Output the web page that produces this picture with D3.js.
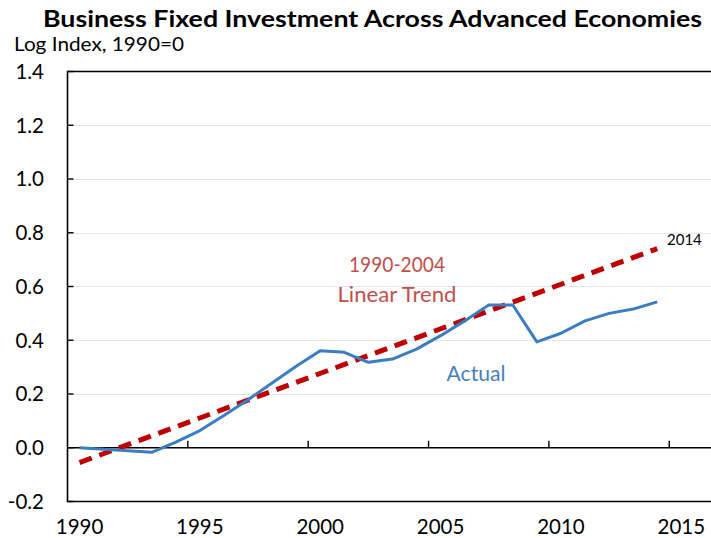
<!DOCTYPE html>
<html>
<head>
<meta charset="utf-8">
<script src="https://cdn.jsdelivr.net/npm/d3@7"></script>
<style>
  body { margin: 0; background: #fff; }
  text { font-family: Lato, "Open Sans", sans-serif; }
</style>
</head>
<body>
<script>
// chart data
var years = [1990, 1991, 1992, 1993, 1994, 1995, 1996, 1997, 1998, 1999,
             2000, 2001, 2002, 2003, 2004, 2005, 2006, 2007, 2008, 2009,
             2010, 2011, 2012, 2013, 2014];
var actual = [0.000, -0.006, -0.011, -0.017, 0.021, 0.064, 0.120, 0.179, 0.241, 0.303,
              0.361, 0.355, 0.318, 0.330, 0.367, 0.417, 0.472, 0.531, 0.531, 0.394,
              0.426, 0.472, 0.500, 0.516, 0.543];
// 1990-2004 linear trend, extended to 2014 (end points only)
var trendYears = [1990, 2014];
var trendValues = [-0.055, 0.741];

var yTicks = [-0.2, 0.0, 0.2, 0.4, 0.6, 0.8, 1.0, 1.2, 1.4];
var xLabels = [1990, 1995, 2000, 2005, 2010, 2015];
var xTickMarks = [1994.5, 1999.5, 2004.5, 2009.5, 2014.5];

var width = 711,
    height = 538;

var svg = d3.select("body")
    .append("svg")
    .attr("width", width)
    .attr("height", height);

//category style axis: each year gets a 24px slot, points sit in the middle
var x = d3.scaleLinear()
    .domain([1989.5, 2016.5])
    .range([67.5, 67.5 + 27 * 24.07]);

var y = d3.scaleLinear()
    .domain([-0.2, 1.4])
    .range([501.5, 71.5]);

//light gridlines
svg.selectAll(".grid")
    .data(yTicks.filter(function(d){ return d > 0 && d < 1.4; }))
    .enter()
    .append("line")
    .attr("class", "grid")
    .attr("x1", x(1989.5))
    .attr("x2", width)
    .attr("y1", function(d){ return Math.round(y(d)) + 0.5; })
    .attr("y2", function(d){ return Math.round(y(d)) + 0.5; })
    .attr("stroke", "#e6e6e6")
    .attr("stroke-width", 1.2);

//plot frame: top, left, bottom
svg.append("path")
    .attr("d", "M" + width + "," + y(1.4) + "H" + x(1989.5) + "V" + y(-0.2) + "H" + width)
    .attr("fill", "none")
    .attr("stroke", "#000")
    .attr("stroke-width", 1.6);

//y ticks point inward
svg.selectAll(".ytick")
    .data(yTicks)
    .enter()
    .append("line")
    .attr("x1", x(1989.5))
    .attr("x2", x(1989.5) + 6)
    .attr("y1", function(d){ return y(d); })
    .attr("y2", function(d){ return y(d); })
    .attr("stroke", "#000")
    .attr("stroke-width", 1.4);

svg.selectAll(".ylab")
    .data(yTicks)
    .enter()
    .append("text")
    .attr("x", 44)
    .attr("y", function(d){ return y(d); })
    .attr("dy", "0.36em")
    .attr("text-anchor", "end")
    .attr("font-size", 20.5)
    .attr("fill", "#000")
    .text(function(d){ return d3.format(".1f")(d).replace("−", "-"); });

//zero line with upward ticks between categories
svg.append("line")
    .attr("x1", x(1989.5))
    .attr("x2", width)
    .attr("y1", y(0))
    .attr("y2", y(0))
    .attr("stroke", "#000")
    .attr("stroke-width", 1.6);

svg.selectAll(".xtick")
    .data(xTickMarks)
    .enter()
    .append("line")
    .attr("x1", function(d){ return x(d); })
    .attr("x2", function(d){ return x(d); })
    .attr("y1", y(0))
    .attr("y2", y(0) - 7)
    .attr("stroke", "#000")
    .attr("stroke-width", 1.4);

svg.selectAll(".xlab")
    .data(xLabels)
    .enter()
    .append("text")
    .attr("x", function(d){ return x(d); })
    .attr("y", 534)
    .attr("text-anchor", "middle")
    .attr("font-size", 20.5)
    .attr("fill", "#000")
    .text(function(d){ return d; });

//trend line
var line = d3.line()
    .x(function(d){ return x(d[0]); })
    .y(function(d){ return y(d[1]); });

svg.append("path")
    .datum(d3.zip(trendYears, trendValues))
    .attr("d", line)
    .attr("fill", "none")
    .attr("stroke", "#c00000")
    .attr("stroke-width", 5)
    .attr("stroke-dasharray", "13,8");

//actual series
svg.append("path")
    .datum(d3.zip(years, actual))
    .attr("d", line)
    .attr("fill", "none")
    .attr("stroke", "#3b7dc2")
    .attr("stroke-width", 3)
    .attr("stroke-linejoin", "round");

//titles
svg.append("text")
    .attr("x", 372.5)
    .attr("y", 27)
    .attr("text-anchor", "middle")
    .attr("font-size", 23)
    .attr("font-weight", "bold")
    .attr("fill", "#000")
    .attr("textLength", 659)
    .attr("lengthAdjust", "spacingAndGlyphs")
    .text("Business Fixed Investment Across Advanced Economies");

svg.append("text")
    .attr("x", 14)
    .attr("y", 51)
    .attr("font-size", 19.5)
    .attr("fill", "#000")
    .attr("textLength", 170)
    .attr("lengthAdjust", "spacingAndGlyphs")
    .text("Log Index, 1990=0");

//annotations
svg.append("text")
    .attr("x", 397)
    .attr("y", 272)
    .attr("text-anchor", "middle")
    .attr("font-size", 20.5)
    .attr("fill", "#c0504d")
    .attr("textLength", 96)
    .attr("lengthAdjust", "spacingAndGlyphs")
    .text("1990-2004");

svg.append("text")
    .attr("x", 397)
    .attr("y", 302)
    .attr("text-anchor", "middle")
    .attr("font-size", 20.5)
    .attr("fill", "#c0504d")
    .attr("textLength", 119)
    .attr("lengthAdjust", "spacingAndGlyphs")
    .text("Linear Trend");

svg.append("text")
    .attr("x", 476)
    .attr("y", 381)
    .attr("text-anchor", "middle")
    .attr("font-size", 20.5)
    .attr("fill", "#4a7ebb")
    .attr("textLength", 59)
    .attr("lengthAdjust", "spacingAndGlyphs")
    .text("Actual");

svg.append("text")
    .attr("x", 667)
    .attr("y", 245)
    .attr("font-size", 15)
    .attr("fill", "#000")
    .text("2014");
</script>
</body>
</html>
